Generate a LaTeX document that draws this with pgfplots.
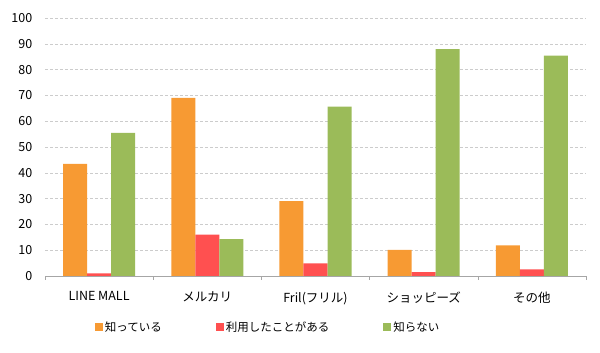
\documentclass[border=0pt]{standalone}
\usepackage{pgfplots}
\pgfplotsset{compat=1.18}
\usepackage{fontspec}
\setmainfont{Noto Sans CJK JP}
\definecolor{cOr}{HTML}{F79A33}
\definecolor{cRd}{HTML}{FF5050}
\definecolor{cGr}{HTML}{9BBB59}
\begin{document}
\begin{tikzpicture}
\path (-45pt,-77pt) rectangle (555pt,276pt);
\begin{axis}[
  at={(0,0)}, anchor=south west, scale only axis,
  width=541pt, height=258pt,
  ybar=0pt, bar width=0.222,
  xmin=-0.5, xmax=4.5, ymin=0, ymax=100,
  xtick={0,...,4},
  xticklabels={LINE MALL, メルカリ, Fril(フリル), ショッピーズ, その他},
  minor xtick={-0.5,0.5,...,4.5},
  major x tick style={draw=none},
  minor x tick style={gray!70},
  minor tick length=4pt,
  tick align=outside,
  ytick={0,10,...,100},
  y tick style={draw=none},
  ymajorgrids, grid style={densely dashed, gray!40, line width=0.4pt},
  axis x line*=bottom, axis y line*=left,
  y axis line style={draw=none},
  x axis line style={gray!70, line width=0.6pt},
  /pgf/number format/assume math mode=true,
  tick label style={font=\fontsize{12.5}{14}\selectfont},
  yticklabel style={xshift=-5pt},
  xticklabel style={yshift=-8pt},
  legend columns=3,
  legend style={at={(0.092,-0.198)}, anchor=west, draw=none, inner sep=0pt,
    font=\fontsize{11.5}{13}\selectfont,
    /tikz/every even column/.append style={column sep=52pt}},
  legend image code/.code={\fill[#1] (0pt,-4pt) rectangle (8pt,4pt);},
]
\addplot[fill=cOr, draw=none] coordinates {(0,43.5) (1,69) (2,29) (3,10.1) (4,11.9)};
\addplot[fill=cRd, draw=none] coordinates {(0,1.0) (1,16) (2,4.9) (3,1.5) (4,2.6)};
\addplot[fill=cGr, draw=none] coordinates {(0,55.5) (1,14.3) (2,65.6) (3,87.9) (4,85.4)};
\legend{知っている, 利用したことがある, 知らない}
\end{axis}
\end{tikzpicture}
\end{document}
